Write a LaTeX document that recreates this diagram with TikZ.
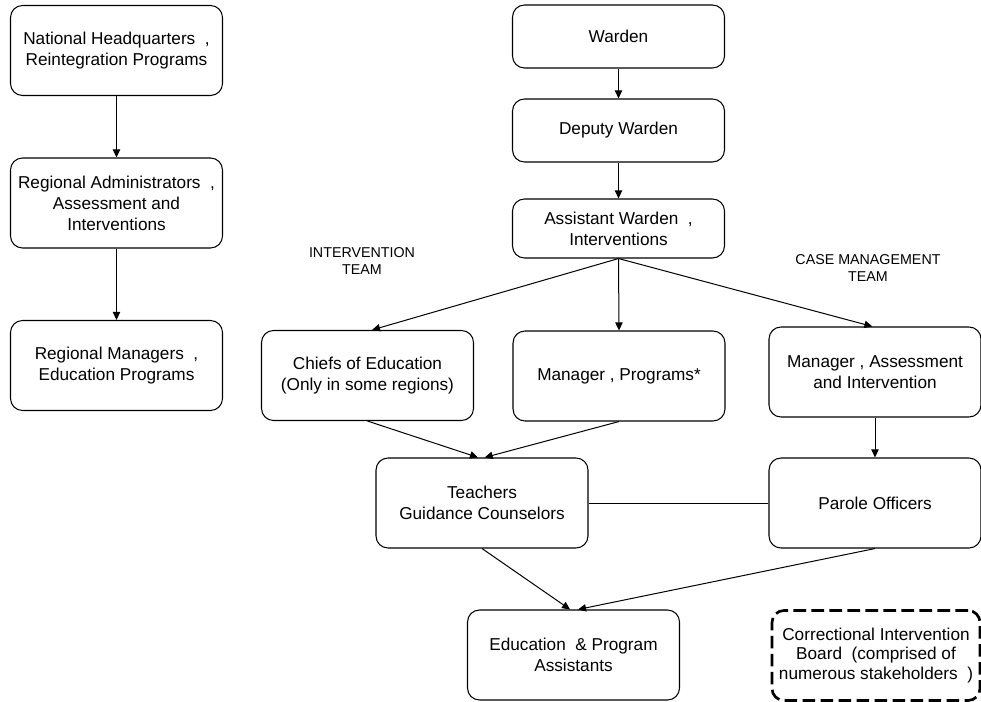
\documentclass[tikz,border=0pt]{standalone}
\usepackage{fontspec}
\setmainfont{Liberation Sans}
\usetikzlibrary{arrows.meta}

\begin{document}
\begin{tikzpicture}[
  x=0.75pt, y=-0.75pt,
  box/.style={draw, line width=0.8pt, rounded corners=9pt, align=center,
    inner sep=0pt, minimum width=159pt, minimum height=67.5pt,
    font=\fontsize{12.9}{15.75}\selectfont},
  wbox/.style={box, minimum height=47.25pt},
  dbox/.style={box, line width=2pt, dash pattern=on 9.5pt off 4pt,
    minimum width=156pt, font=\fontsize{12.9}{14.6}\selectfont},
  team/.style={align=center, font=\fontsize{10.7}{12.75}\selectfont},
  arr/.style={-{Triangle[length=6pt,width=5.5pt]}, line width=0.75pt}
]
\useasboundingbox (0,0) rectangle (981,702);

\node [box] (nhq) at (116.5,50.5) {National Headquarters\ \ ,\\Reintegration Programs};
\node [box] (radm) at (116.5,203) {Regional Administrators\ \ ,\\Assessment and\\Interventions};
\node [box] (rmgr) at (116.5,365.5) {Regional Managers\ \ ,\\Education Programs};

\node [wbox] (ward) at (618.5,36.5) {Warden};
\node [wbox] (dep) at (618.5,130.5) {Deputy Warden};
\node [wbox, minimum height=44.25pt] (asst) at (618.5,228.5) {Assistant Warden\ \ ,\\Interventions};

\node [team] (ilbl) at (362,261.5) {INTERVENTION\\TEAM};
\node [team] (clbl) at (868,268.5) {CASE MANAGEMENT\\TEAM};

\node [box] (chief) at (367.5,375.5) {Chiefs of Education\\(Only in some regions)};
\node [box] (mprog) at (619,376) {Manager , Programs*};
\node [box] (mai) at (875,372) {Manager , Assessment\\and Intervention};

\node [box] (teach) at (482,503) {Teachers\\Guidance Counselors};
\node [box] (parole) at (875,503) {Parole Officers};

\node [box] (edu) at (573.5,655) {Education\ \ \& Program\\Assistants};
\node [dbox] (cib) at (876,655.5) {Correctional Intervention\\Board\ \ (comprised of\\numerous stakeholders\ \ )};

\draw [arr] (nhq) -- (radm);
\draw [arr] (radm) -- (rmgr);

\draw [arr] (ward) -- (dep);
\draw [arr] (dep) -- (asst);
\draw [arr] (asst.south) -- ([xshift=3.4pt]chief.north);
\draw [arr] (asst.south) -- (mprog.north);
\draw [arr] (asst.south) -- ([xshift=-2pt]mai.north);

\draw [arr] (chief.south) -- ([xshift=-3pt]teach.north);
\draw [arr] (mprog.south) -- ([xshift=2pt]teach.north);
\draw [arr] (mai) -- (parole);
\draw [line width=0.75pt] (teach) -- (parole);

\draw [arr] (teach.south) -- ([xshift=-2.6pt]edu.north);
\draw [arr] (parole.south) -- ([xshift=3.4pt]edu.north);

\end{tikzpicture}
\end{document}
